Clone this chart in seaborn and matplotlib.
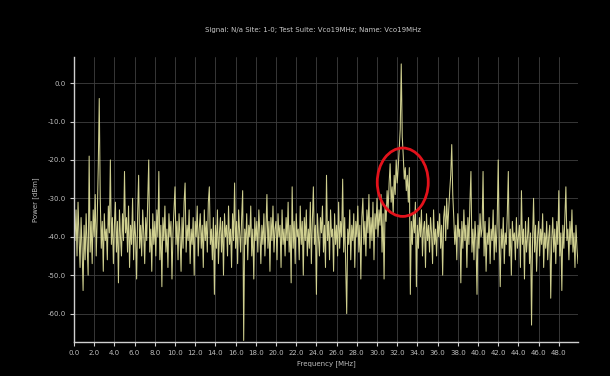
import numpy as np
import pandas as pd
import matplotlib
matplotlib.use("Agg")
import matplotlib.pyplot as plt
from matplotlib.patches import Ellipse
import seaborn as sns

# ---- data (power in dBm, 0.1 MHz bins) ----
FREQ_START, FREQ_STEP = 0.0, 0.1

p_00_05 = [-36, -41, -33, -45, -31, -40, -48, -35, -43, -54,
           -37, -46, -34, -42, -50, -19, -44, -36, -47, -33,
           -40, -29, -45, -35, -22, -4, -30, -43, -36, -49,
           -34, -41, -38, -46, -32, -39, -20, -42, -35, -47,
           -37, -31, -44, -36, -52, -33, -40, -45, -34, -41]
p_05_10 = [-23, -39, -35, -44, -32, -48, -37, -42, -30, -46,
           -36, -40, -51, -34, -24, -43, -37, -45, -33, -39,
           -47, -35, -41, -31, -20, -44, -38, -49, -34, -42,
           -36, -45, -33, -40, -23, -46, -37, -53, -35, -41,
           -32, -44, -38, -48, -34, -40, -36, -51, -39, -33]
p_10_15 = [-27, -42, -36, -46, -34, -40, -49, -35, -43, -31,
           -26, -44, -37, -41, -33, -47, -38, -42, -35, -50,
           -36, -40, -32, -45, -38, -34, -43, -37, -48, -33,
           -41, -36, -44, -31, -27, -42, -38, -46, -35, -55,
           -37, -43, -33, -47, -39, -35, -44, -36, -50, -34]
p_15_20 = [-40, -37, -45, -32, -42, -38, -48, -34, -41, -26,
           -43, -36, -47, -33, -39, -44, -35, -28, -67, -38,
           -42, -34, -46, -37, -40, -32, -45, -38, -51, -35,
           -41, -36, -44, -33, -39, -47, -37, -42, -34, -45,
           -38, -29, -43, -36, -49, -35, -41, -32, -44, -38]
p_20_25 = [-36, -46, -34, -40, -37, -48, -33, -42, -38, -45,
           -35, -41, -31, -44, -37, -52, -27, -43, -36, -47,
           -34, -40, -38, -46, -32, -42, -36, -50, -35, -41,
           -33, -45, -38, -43, -31, -47, -36, -27, -42, -37,
           -55, -34, -40, -45, -35, -39, -32, -44, -37, -48]
p_25_30 = [-24, -41, -36, -46, -33, -40, -38, -49, -34, -42,
           -37, -45, -31, -43, -36, -40, -25, -44, -35, -47,
           -60, -38, -42, -33, -46, -37, -41, -34, -48, -36,
           -40, -32, -44, -37, -51, -35, -30, -42, -36, -45,
           -33, -39, -29, -43, -35, -41, -31, -46, -34, -38]
p_30_35 = [-30, -40, -33, -37, -29, -44, -34, -51, -32, -36,
           -28, -33, -26, -21, -31, -27, -34, -24, -29, -20,
           -26, -22, -17, -12, 5, -14, -19, -25, -22, -28,
           -24, -31, -22, -55, -36, -42, -34, -39, -31, -53,
           -37, -43, -35, -40, -33, -45, -38, -36, -48, -34]
p_35_40 = [-41, -37, -44, -35, -39, -47, -33, -42, -38, -45,
           -36, -40, -34, -43, -37, -50, -35, -32, -41, -30,
           -38, -33, -28, -24, -16, -29, -35, -42, -37, -46,
           -34, -40, -38, -52, -36, -43, -33, -41, -37, -48,
           -35, -42, -31, -23, -44, -38, -46, -36, -41, -55]
p_40_45 = [-37, -43, -34, -40, -38, -23, -45, -36, -49, -39,
           -42, -35, -47, -38, -41, -33, -46, -37, -44, -36,
           -20, -40, -53, -38, -43, -35, -47, -39, -42, -34,
           -23, -45, -38, -50, -36, -41, -39, -46, -35, -43,
           -40, -37, -48, -28, -42, -38, -51, -36, -44, -40]
p_45_50 = [-35, -47, -39, -63, -41, -30, -44, -37, -49, -40,
           -36, -45, -38, -42, -34, -48, -39, -43, -36, -46,
           -40, -37, -56, -41, -35, -44, -38, -47, -36, -42,
           -28, -45, -39, -54, -37, -43, -35, -27, -41, -38,
           -46, -36, -42, -33, -44, -39, -48, -37, -43, -47]

x_ticks = [0.0, 2.0, 4.0, 6.0, 8.0, 10.0, 12.0, 14.0, 16.0, 18.0, 20.0, 22.0, 24.0,
           26.0, 28.0, 30.0, 32.0, 34.0, 36.0, 38.0, 40.0, 42.0, 44.0, 46.0, 48.0]
y_ticks = [-60.0, -50.0, -40.0, -30.0, -20.0, -10.0, 0.0]

title_text = "Signal: N/a Site: 1-0; Test Suite: Vco19MHz; Name: Vco19MHz"
x_label = "Frequency [MHz]"
y_label = "Power [dBm]"

# highlighted region (center MHz, center dBm, width MHz, height dB)
circle_center = (32.55, -25.8)
circle_size = (5.05, 17.8)

power = np.array(p_00_05 + p_05_10 + p_10_15 + p_15_20 + p_20_25 +
                 p_25_30 + p_30_35 + p_35_40 + p_40_45 + p_45_50, dtype=float)
freq = FREQ_START + FREQ_STEP * np.arange(len(power))
df = pd.DataFrame({"freq": freq, "power": power})

# ---- style ----
sns.set_theme(style="dark")
plt.rcParams["font.family"] = ["DejaVu Sans"]

fig = plt.figure(figsize=(6.10, 3.76), dpi=100, facecolor="black")
ax = fig.add_axes([74 / 610, 1 - 342 / 376, 504 / 610, 285 / 376])
ax.set_facecolor("black")

sns.lineplot(data=df, x="freq", y="power", ax=ax, estimator=None,
             color="#e2e29c", lw=0.75, alpha=0.92)

ax.add_patch(Ellipse(circle_center, circle_size[0], circle_size[1], fill=False,
                     edgecolor="#e3121b", lw=2.0, zorder=5))

ax.set_xlim(0, 49.9)
ax.set_ylim(-67.4, 6.8)
ax.set_xticks(x_ticks)
ax.set_xticklabels([f"{t:.1f}" for t in x_ticks])
ax.set_yticks(y_ticks)
ax.set_yticklabels([f"{t:.1f}" for t in y_ticks])

ax.grid(True, color="#404040", lw=0.6)
ax.set_axisbelow(True)
for s in ["top", "right"]:
    ax.spines[s].set_visible(False)
for s in ["left", "bottom"]:
    ax.spines[s].set_visible(True)
    ax.spines[s].set_color("#cfcfcf")
    ax.spines[s].set_linewidth(1.0)

ax.tick_params(axis="both", colors="#cfcfcf", labelcolor="#bdbdbd",
               labelsize=5, length=3, width=0.8, direction="out",
               bottom=True, left=True, pad=3)

ax.set_xlabel(x_label, color="#bdbdbd", fontsize=5, labelpad=3)
ax.set_ylabel(y_label, color="#bdbdbd", fontsize=5, labelpad=6)

fig.text(0.513, 1 - 30 / 376, title_text, color="#c8c8c8", fontsize=5,
         ha="center", va="center")

fig.savefig("out.png", dpi=100, facecolor="black")
